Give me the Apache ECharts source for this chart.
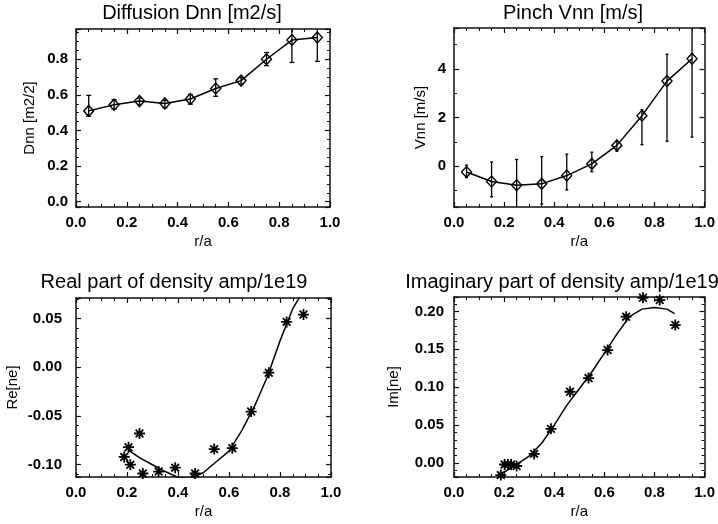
<!DOCTYPE html>
<html>
<head>
<meta charset="utf-8">
<script src="https://cdn.jsdelivr.net/npm/echarts@6/dist/echarts.min.js"></script>
<style>
html, body { margin: 0; padding: 0; background: #fff; }
#main { width: 718px; height: 524px; }
</style>
</head>
<body>
<div id="main"></div>
<script>
// radial positions of the transport fit
var rPts = [0.05, 0.15, 0.25, 0.35, 0.45, 0.55, 0.65, 0.75, 0.85, 0.95];

// diffusion Dnn and its error bars
var dnn   = [0.51, 0.545, 0.565, 0.552, 0.577, 0.636, 0.68, 0.80, 0.908, 0.922];
var dnnLo = [0.48, 0.52, 0.545, 0.528, 0.548, 0.592, 0.662, 0.764, 0.782, 0.788];
var dnnHi = [0.597, 0.572, 0.582, 0.57, 0.602, 0.69, 0.697, 0.838, 0.99, 0.99];

// pinch Vnn and its error bars
var vnn   = [-0.23, -0.62, -0.78, -0.72, -0.38, 0.10, 0.86, 2.08, 3.50, 4.42];
var vnnLo = [-0.46, -1.25, -1.80, -1.55, -0.97, -0.22, 0.62, 0.89, 1.03, 1.20];
var vnnHi = [0.05, 0.18, 0.28, 0.40, 0.50, 0.58, 1.02, 2.33, 4.60, 5.90];

// measured real part (stars) and model curve
var reR = [0.189, 0.206, 0.213, 0.249, 0.262, 0.324, 0.389, 0.467, 0.542, 0.613, 0.687, 0.756, 0.826, 0.892];
var reV = [-0.092, -0.082, -0.100, -0.068, -0.109, -0.107, -0.103, -0.109, -0.084, -0.083, -0.0455, -0.0056, 0.0465, 0.054];
var reFitR = [0.206, 0.25, 0.30, 0.35, 0.40, 0.45, 0.50, 0.55, 0.60, 0.65, 0.70, 0.75, 0.80, 0.85, 0.90];
var reFitV = [-0.085, -0.093, -0.100, -0.107, -0.113, -0.114, -0.108, -0.097, -0.086, -0.065, -0.040, -0.010, 0.027, 0.060, 0.082];

// measured imaginary part (stars) and model curve
var imR = [0.187, 0.202, 0.215, 0.228, 0.25, 0.32, 0.387, 0.463, 0.537, 0.613, 0.687, 0.754, 0.821, 0.883];
var imV = [-0.016, -0.002, -0.002, -0.002, -0.004, 0.012, 0.045, 0.094, 0.112, 0.149, 0.193, 0.218, 0.215, 0.182];
var imFitR = [0.20, 0.25, 0.30, 0.35, 0.40, 0.45, 0.50, 0.55, 0.60, 0.65, 0.70, 0.75, 0.80, 0.85, 0.88];
var imFitV = [-0.012, -0.002, 0.009, 0.026, 0.050, 0.076, 0.098, 0.120, 0.145, 0.170, 0.193, 0.203, 0.205, 0.203, 0.197];

var font = 'Liberation Sans, Arial, Helvetica, sans-serif';
var star = 'path://M5,0L5,10M0,5L10,5M1.5,1.5L8.5,8.5M1.5,8.5L8.5,1.5';
var ink = '#111';

// one entry per panel
var panels = [
	{ grid: { left: 76, top: 29, width: 254, height: 178 }, yMin: -0.03, yMax: 0.97, yStep: 0.2, yMinor: 4, digits: 1,
	  yName: 'Dnn [m2/2]', yGap: 39, yMargin: 8, title: 'Diffusion Dnn [m2/s]', tx: 192, ty: 3 },
	{ grid: { left: 454, top: 28, width: 254, height: 179 }, yMin: -1.67, yMax: 5.68, yStep: 2, yMinor: 2, digits: 0,
	  yName: 'Vnn [m/s]', yGap: 26, yMargin: 8, title: 'Pinch Vnn [m/s]', tx: 573, ty: 3 },
	{ grid: { left: 76, top: 298, width: 255, height: 179 }, yMin: -0.1126, yMax: 0.071, yStep: 0.05, yMinor: 5, digits: 2,
	  yName: 'Re[ne]', yGap: 56, yMargin: 14, title: 'Real part of density amp/1e19', tx: 174, ty: 272 },
	{ grid: { left: 454, top: 297, width: 255, height: 180 }, yMin: -0.0185, yMax: 0.219, yStep: 0.05, yMinor: 5, digits: 2,
	  yName: 'Im[ne]', yGap: 53, yMargin: 10, title: 'Imaginary part of density amp/1e19', tx: 562, ty: 272 }
];

function pairs(xs, ys) {
	var out = [];
	for (var i = 0; i < xs.length; i++) out.push([xs[i], ys[i]]);
	return out;
}

function triples(xs, lo, hi) {
	var out = [];
	for (var i = 0; i < xs.length; i++) out.push([xs[i], lo[i], hi[i]]);
	return out;
}

var xAxes = [], yAxes = [], grids = [], titles = [];
panels.forEach(function (p, i) {
	grids.push(p.grid);
	titles.push({
		type: 'text', x: p.tx, y: p.ty,
		style: { text: p.title, fill: '#000', font: 'normal 20px ' + font, align: 'center', verticalAlign: 'top' }
	});
	[['bottom', true], ['top', false]].forEach(function (s) {
		var a = { type: 'value', position: s[0], gridIndex: i, min: 0, max: 1, minInterval: 0.2, maxInterval: 0.2,
			axisLine: { show: true, onZero: false, lineStyle: { color: ink, width: 1.5 } },
			axisTick: { show: true, inside: true, length: 5, lineStyle: { color: ink, width: 1.2 } },
			minorTick: { show: true, splitNumber: 4, length: 3, lineStyle: { color: ink, width: 1 } },
			splitLine: { show: false }, axisLabel: { show: s[1] } };
		if (s[1]) {
			a.name = 'r/a'; a.nameLocation = 'middle'; a.nameGap = 27;
			a.nameTextStyle = { fontFamily: font, fontSize: 15, color: '#000' };
			a.axisLabel = { show: true, margin: 8, fontFamily: font, fontSize: 15, fontWeight: 'bold', color: '#000',
				showMinLabel: true, showMaxLabel: true, formatter: function (v) { return v.toFixed(1); } };
		}
		xAxes.push(a);
	});
	[['left', true], ['right', false]].forEach(function (s) {
		var a = { type: 'value', position: s[0], gridIndex: i, min: p.yMin, max: p.yMax, minInterval: p.yStep, maxInterval: p.yStep,
			axisLine: { show: true, onZero: false, lineStyle: { color: ink, width: 1.5 } },
			axisTick: { show: true, inside: true, length: 5, lineStyle: { color: ink, width: 1.2 } },
			minorTick: { show: true, splitNumber: p.yMinor, length: 3, lineStyle: { color: ink, width: 1 } },
			splitLine: { show: false }, axisLabel: { show: s[1] } };
		if (s[1]) {
			a.name = p.yName; a.nameLocation = 'middle'; a.nameGap = p.yGap;
			a.nameTextStyle = { fontFamily: font, fontSize: 15, color: '#000' };
			a.axisLabel = { show: true, margin: p.yMargin, fontFamily: font, fontSize: 15, fontWeight: 'bold', color: '#000',
				showMinLabel: false, showMaxLabel: false, formatter: function (v) { return v.toFixed(p.digits); } };
		}
		yAxes.push(a);
	});
});

function errorBars(cap) {
	return function (params, api) {
		var x = api.value(0);
		var lo = api.coord([x, api.value(1)]);
		var hi = api.coord([x, api.value(2)]);
		var st = { stroke: '#000', lineWidth: 1.3 };
		var kids = [{ type: 'line', shape: { x1: lo[0], y1: lo[1], x2: hi[0], y2: hi[1] }, style: st }];
		if (cap) {
			kids.push({ type: 'line', shape: { x1: lo[0] - cap, y1: lo[1], x2: lo[0] + cap, y2: lo[1] }, style: st });
			kids.push({ type: 'line', shape: { x1: hi[0] - cap, y1: hi[1], x2: hi[0] + cap, y2: hi[1] }, style: st });
		}
		return { type: 'group', children: kids };
	};
}

function errSeries(idx, cap, data) {
	return { type: 'custom', xAxisIndex: idx, yAxisIndex: idx, clip: true, renderItem: errorBars(cap),
		encode: { x: 0, y: [1, 2] }, data: data };
}

function diamondSeries(idx, data) {
	return { type: 'line', xAxisIndex: idx, yAxisIndex: idx, symbol: 'diamond', symbolSize: [10, 11],
		itemStyle: { color: 'transparent', borderColor: '#000', borderWidth: 1.4 },
		lineStyle: { color: '#000', width: 1.5 }, data: data };
}

function fitSeries(idx, data) {
	return { type: 'line', xAxisIndex: idx, yAxisIndex: idx, showSymbol: false,
		lineStyle: { color: '#000', width: 1.5 }, data: data };
}

function starSeries(idx, data) {
	return { type: 'scatter', xAxisIndex: idx, yAxisIndex: idx, symbol: star, symbolSize: 11,
		itemStyle: { color: 'none', borderColor: '#000', borderWidth: 1.8, opacity: 1 }, data: data };
}

var myChart = echarts.init(document.getElementById('main'));
myChart.setOption({
	animation: false,
	backgroundColor: '#fff',
	graphic: titles,
	grid: grids,
	xAxis: xAxes,
	yAxis: yAxes,
	series: [
		diamondSeries(0, pairs(rPts, dnn)),
		errSeries(0, 2.5, triples(rPts, dnnLo, dnnHi)),
		diamondSeries(2, pairs(rPts, vnn)),
		errSeries(2, 1.5, triples(rPts, vnnLo, vnnHi)),
		fitSeries(4, pairs(reFitR, reFitV)),
		starSeries(4, pairs(reR, reV)),
		fitSeries(6, pairs(imFitR, imFitV)),
		starSeries(6, pairs(imR, imV))
	]
});
</script>
</body>
</html>
